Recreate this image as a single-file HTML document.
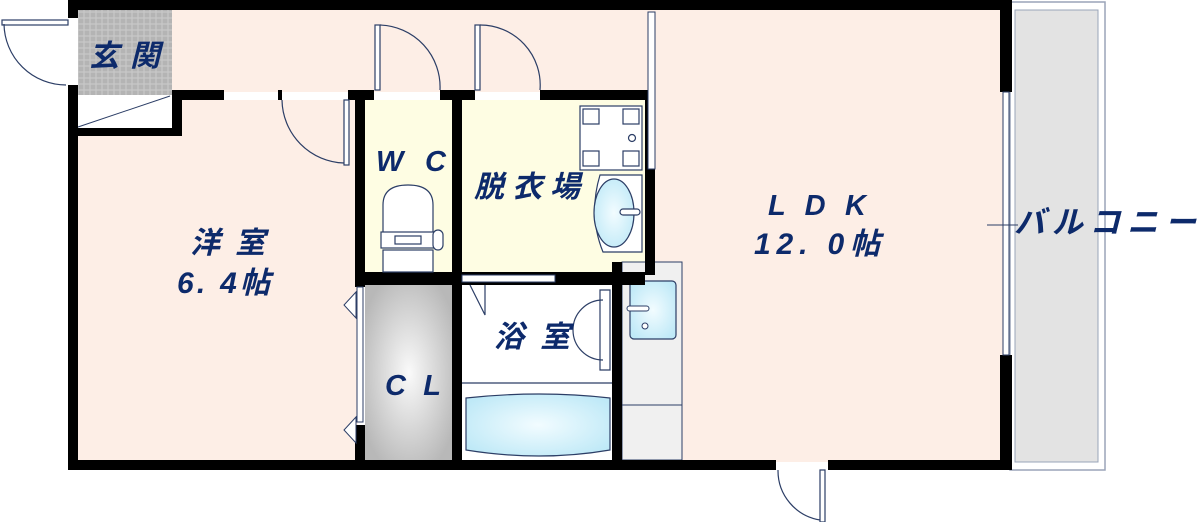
<!DOCTYPE html>
<html><head><meta charset="utf-8"><style>
html,body{margin:0;padding:0;background:#fff;width:1200px;height:522px;overflow:hidden}
svg text{font-family:"Liberation Sans","Noto Sans CJK JP",sans-serif;font-style:italic;font-weight:bold;fill:#0d2a6b}
</style></head><body>
<svg width="1200" height="522" viewBox="0 0 1200 522" xmlns="http://www.w3.org/2000/svg">
<defs>
<pattern id="grid" width="6" height="6" patternUnits="userSpaceOnUse"><rect width="6" height="6" fill="#c8c8c8"/><rect x="0.6" y="0.6" width="4.8" height="4.8" fill="#b4b4b4"/></pattern>
<radialGradient id="cl" cx="0.5" cy="0.5" r="0.6"><stop offset="0" stop-color="#fafafa"/><stop offset="1" stop-color="#b8b8b8"/></radialGradient>
<radialGradient id="bl" cx="0.5" cy="0.5" r="0.6"><stop offset="0" stop-color="#f2fcff"/><stop offset="1" stop-color="#bfe9f7"/></radialGradient>
</defs>
<rect x="1010" y="2" width="95" height="468" fill="#fff" stroke="#9aa4b8" stroke-width="1.5"/>
<rect x="1015" y="10" width="83" height="452" fill="#e3e3e3" stroke="#9aa4b8" stroke-width="1"/>
<rect x="78" y="10" width="580" height="82" fill="#fdeee6"/>
<rect x="78" y="100" width="280" height="362" fill="#fdeee6"/>
<rect x="655" y="10" width="348" height="452" fill="#fdeee6"/>
<rect x="365" y="100" width="88" height="173" fill="#fefde3"/>
<rect x="462" y="100" width="183" height="173" fill="#fefde3"/>
<rect x="365" y="285" width="88" height="176" fill="url(#cl)"/>
<rect x="462" y="285" width="150" height="176" fill="#fff"/>
<rect x="622" y="262" width="60" height="198" fill="#f0f0f0" stroke="#2c3e66" stroke-width="1"/>
<line x1="622" y1="405" x2="682" y2="405" stroke="#2c3e66" stroke-width="1"/>
<rect x="630" y="281" width="46" height="58" rx="4" fill="url(#bl)" stroke="#2c3e66" stroke-width="1.2"/>
<rect x="627" y="306" width="22" height="5" rx="2.5" fill="#fff" stroke="#2c3e66"/>
<circle cx="645" cy="326" r="3" fill="#fff" stroke="#2c3e66"/>
<rect x="78" y="10" width="94" height="85" fill="url(#grid)"/>
<rect x="78" y="95" width="94" height="33" fill="#fff"/>
<line x1="78" y1="127" x2="170" y2="96" stroke="#2c3e66" stroke-width="1"/>
<g fill="#000">
<rect x="68" y="0" width="940" height="10"/>
<rect x="68" y="0" width="10" height="18"/>
<rect x="68" y="85" width="10" height="385"/>
<rect x="68" y="460" width="708" height="10"/>
<rect x="828" y="460" width="180" height="10"/>
<rect x="1000" y="0" width="12" height="92"/>
<rect x="1000" y="355" width="12" height="115"/>
<rect x="68" y="128" width="114" height="8"/>
<rect x="172" y="90" width="10" height="46"/>
<rect x="172" y="90" width="52" height="10"/>
<rect x="278" y="90" width="4" height="10"/>
<rect x="348" y="90" width="26" height="10"/>
<rect x="355" y="90" width="10" height="197"/>
<rect x="355" y="425" width="10" height="45"/>
<rect x="440" y="90" width="35" height="10"/>
<rect x="452" y="90" width="10" height="380"/>
<rect x="540" y="90" width="115" height="10"/>
<rect x="645" y="90" width="10" height="185"/>
<rect x="355" y="272" width="290" height="13"/>
<rect x="612" y="262" width="10" height="208"/>
</g>
<rect x="462" y="275" width="93" height="7" fill="#fff" stroke="#2c3e66" stroke-width="1"/>
<rect x="357" y="287" width="6" height="135" fill="#fff" stroke="#2c3e66" stroke-width="1"/>
<polygon points="356,292 344,305 356,318" fill="#fff" stroke="#2c3e66"/>
<polygon points="356,417 344,430 356,443" fill="#fff" stroke="#2c3e66"/>
<rect x="648" y="12" width="7" height="157" fill="#fff" stroke="#2c3e66" stroke-width="1"/>
<rect x="1003" y="92" width="6" height="263" fill="#fff" stroke="#2c3e66" stroke-width="1"/>
<line x1="987" y1="225" x2="1018" y2="225" stroke="#2c3e66"/>
<g fill="none" stroke="#2c3e66" stroke-width="1.2">
<rect x="2" y="20" width="66" height="5" fill="#fff"/>
<path d="M4,24 A62,62 0 0 0 66,85"/>
<rect x="344" y="100" width="5" height="65" fill="#fff"/>
<path d="M282,100 A64,64 0 0 0 344,163"/>
<rect x="375" y="25" width="5" height="65" fill="#fff"/>
<path d="M380,25 A62,62 0 0 1 440,90"/>
<rect x="475" y="25" width="5" height="65" fill="#fff"/>
<path d="M480,25 A60,60 0 0 1 540,90"/>
<rect x="820" y="470" width="5" height="52" fill="#fff"/>
<path d="M778,470 A50,50 0 0 0 820,520"/>
<path d="M470,285 L485,315 L485,285"/>
<rect x="580" y="106" width="62" height="64" fill="#fff"/>
<rect x="583" y="109" width="16" height="15" fill="#fff"/><rect x="623" y="109" width="16" height="15" fill="#fff"/>
<rect x="583" y="151" width="16" height="15" fill="#fff"/><rect x="623" y="151" width="16" height="15" fill="#fff"/>
<circle cx="632" cy="138" r="3.5"/>
<path d="M600,175 L642,175 L642,252 L603,252 Q588,215 600,175 Z" fill="#fff"/>
<ellipse cx="614" cy="213" rx="20" ry="34" fill="url(#bl)"/>
<rect x="620" y="209" width="20" height="6" rx="3" fill="#fff"/>
<rect x="383" y="250" width="50" height="22" fill="#fff"/>
<path d="M383,235 L383,205 Q383,185 408,185 Q433,185 433,205 L433,235 Z" fill="#fff"/>
<rect x="381" y="232" width="54" height="16" fill="#fff"/>
<rect x="395" y="236" width="26" height="8" fill="#fff"/>
<rect x="433" y="230" width="10" height="20" rx="5" fill="#fff"/>
<path d="M600,290 L610,290 L610,370 L600,370 Z" fill="#fff"/>
<path d="M603,300 A30,30 0 0 0 603,360"/>
<path d="M462,383 L612,383" />
<path d="M466,398 Q540,390 610,398 L610,450 Q540,462 466,450 Z" fill="url(#bl)"/>
</g>
<text x="89" y="66" font-size="30" textLength="71" lengthAdjust="spacing">玄関</text>
<text x="376" y="171" font-size="29" textLength="70" lengthAdjust="spacing">W C</text>
<text x="474" y="197" font-size="30" textLength="106" lengthAdjust="spacing">脱衣場</text>
<text x="190" y="253" font-size="30" textLength="75" lengthAdjust="spacing">洋室</text>
<text x="177" y="293" font-size="30" textLength="93" lengthAdjust="spacing">6. 4帖</text>
<text x="385" y="395" font-size="29" textLength="56" lengthAdjust="spacing">C L</text>
<text x="494" y="347" font-size="30" textLength="76" lengthAdjust="spacing">浴室</text>
<text x="768" y="215" font-size="29" textLength="98" lengthAdjust="spacing">L D K</text>
<text x="754" y="254" font-size="30" textLength="126" lengthAdjust="spacing">12. 0帖</text>
<text x="1014" y="233" font-size="31" textLength="182" lengthAdjust="spacing">バルコニー</text>
</svg>
</body></html>
